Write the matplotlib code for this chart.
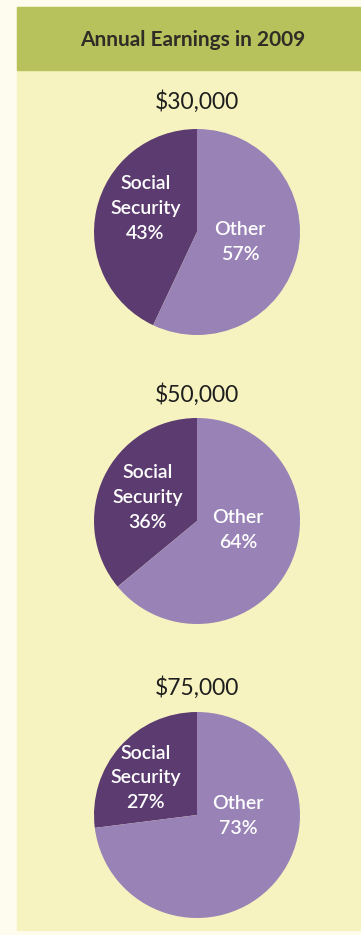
import matplotlib.pyplot as plt
from matplotlib.patches import Rectangle

plt.rcParams['font.family'] = ['Lato', 'DejaVu Sans']

TITLE = "Annual Earnings in 2009"
incomes = ["$30,000", "$50,000", "$75,000"]
social_security = [43, 36, 27]
other = [57, 64, 73]
labels = ["Social\nSecurity", "Other"]

W, H = 361, 935
DARK = "#5c3c70"
LIGHT = "#9882b6"
PANEL = "#f7f3c0"
HEADER = "#b8c25c"

fig = plt.figure(figsize=(W / 100, H / 100), dpi=100)
fig.patch.set_facecolor("#fdfcef")

# panel + header band (pixel coords from the top)
fig.add_artist(Rectangle((17 / W, 1 - 930 / H), 1 - 17 / W, 923 / H,
                         transform=fig.transFigure, color=PANEL, zorder=0))
fig.add_artist(Rectangle((17 / W, 1 - 70 / H), 1 - 17 / W, 63 / H,
                         transform=fig.transFigure, color=HEADER, zorder=0))
fig.text(193 / W, 1 - 40 / H, TITLE, ha="center", va="center",
         fontsize=15, fontweight="bold", color="#2e2e26")

centers = [232, 521, 815]
title_y = [102, 395, 688]
ss_pos = [(-0.50, 0.23), (-0.48, 0.23), (-0.50, 0.36)]
oth_pos = [(0.42, -0.10), (0.40, -0.09), (0.40, -0.01)]
r = 103

for i in range(3):
    ax = fig.add_axes([(197 - r) / W, 1 - (centers[i] + r) / H, 2 * r / W, 2 * r / H])
    ax.pie([social_security[i], other[i]], colors=[DARK, LIGHT],
           startangle=90, counterclock=True, radius=1)
    ax.set_xlim(-1, 1)
    ax.set_ylim(-1, 1)
    ax.set_aspect("equal")
    ax.axis("off")
    ax.text(ss_pos[i][0], ss_pos[i][1], f"{labels[0]}\n{social_security[i]}%",
            ha="center", va="center", color="white", fontsize=14,
            fontweight="semibold", linespacing=1.55)
    ax.text(oth_pos[i][0], oth_pos[i][1], f"{labels[1]}\n{other[i]}%",
            ha="center", va="center", color="white", fontsize=14,
            fontweight="semibold", linespacing=1.55)
    fig.text(197 / W, 1 - title_y[i] / H, incomes[i], ha="center", va="center",
             fontsize=16.5, color="#1e1e1e")

fig.savefig("out.png", dpi=100, facecolor=fig.get_facecolor())
